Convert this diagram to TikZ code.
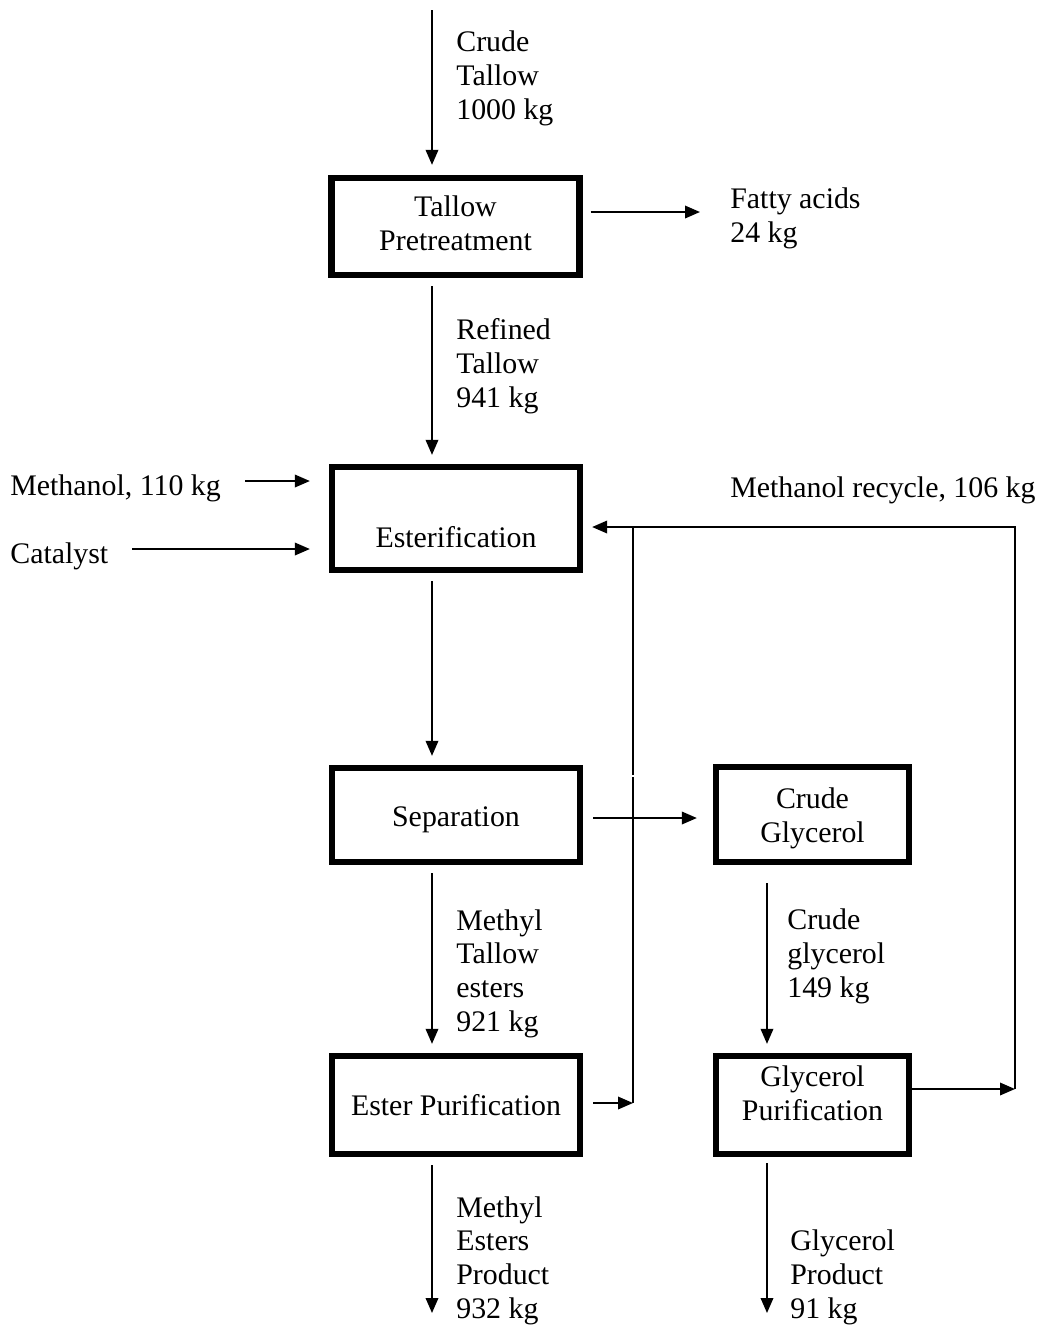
\documentclass[tikz,border=0pt]{standalone}
\usepackage{fontspec}
\setmainfont{Liberation Serif}
\usetikzlibrary{arrows.meta}

\tikzset{
  unit/.style={draw,line width=3.6pt,inner sep=0pt,minimum width=4.96cm},
  unittxt/.style={inner sep=0pt,anchor=base,align=center},
  lbl/.style={inner sep=0pt,anchor=base west,align=left},
  flow/.style={line width=1.1pt,-{Triangle[length=0.3cm,width=0.25cm]}},
  pipe/.style={line width=1.1pt},
  gap/.style={shorten <=0.16cm,shorten >=0.18cm},
}

\begin{document}
\begin{tikzpicture}[x=0.02cm,y=-0.02cm,font=\fontsize{17}{19.1}\selectfont]
\useasboundingbox (0,0) rectangle (1042,1330);

% process units
\node[unit,minimum height=1.94cm] (pre) at (455.5,226.5) {};
\node[unit,minimum height=2.06cm] (ester) at (456,518.5) {};
\node[unit,minimum height=1.88cm] (sep) at (456,815) {};
\node[unit,minimum height=1.9cm,minimum width=3.86cm] (cgly) at (812.5,814.5) {};
\node[unit,minimum height=1.96cm] (estp) at (456,1105) {};
\node[unit,minimum height=1.96cm,minimum width=3.86cm] (glyp) at (812.5,1105) {};

% text of the units (base = last line)
\node[unittxt] (pretxt) at (455.5,250) {Tallow\\Pretreatment};
\node[unittxt] (estertxt) at (456,547) {Esterification};
\node[unittxt] (septxt) at (456,826) {Separation};
\node[unittxt] (cglytxt) at (812.5,842) {Crude\\Glycerol};
\node[unittxt] (estptxt) at (456,1115) {Ester Purification};
\node[unittxt] (glyptxt) at (812.5,1120) {Glycerol\\Purification};

% stream labels
\node[lbl] (crude) at (456,119) {Crude\\Tallow\\1000 kg};
\node[lbl] (fatty) at (730,242) {Fatty acids\\24 kg};
\node[lbl] (refined) at (456,407) {Refined\\Tallow\\941 kg};
\node[lbl] (methin) at (10,495) {Methanol, 110 kg};
\node[lbl] (cat) at (10,563) {Catalyst};
\node[lbl] (recyc) at (730,497) {Methanol recycle, 106 kg};
\node[lbl] (mte) at (456,1031) {Methyl\\Tallow\\esters\\921 kg};
\node[lbl] (cglyin) at (787,997) {Crude\\glycerol\\149 kg};
\node[lbl] (mep) at (456,1318) {Methyl\\Esters\\Product\\932 kg};
\node[lbl] (gp) at (790,1318) {Glycerol\\Product\\91 kg};

% free ends
\coordinate (feed) at (432,10);
\coordinate (fa) at (700,212);
\coordinate (meth) at (245,481);
\coordinate (catin) at (132,549);
\coordinate (meout) at (432,1313);
\coordinate (gout) at (767,1313);
\coordinate (ejoin) at (633,1103);
\coordinate (gjoin) at (1015,1089);
\coordinate (rtop) at (1015,527);

% main line
\draw[flow,shorten >=0.2cm] (feed) -- (feed |- pre.north);
\draw[flow,gap] (pre.south -| feed) -- (ester.north -| feed);
\draw[flow,gap] (ester.south -| feed) -- (sep.north -| feed);
\draw[flow,gap] (sep.south -| feed) -- (estp.north -| feed);
\draw[flow,shorten <=0.16cm] (estp.south -| feed) -- (meout);
\draw[flow,shorten <=0.16cm] (pre.east |- fa) -- (fa);
\draw[flow,shorten >=0.38cm] (meth) -- (meth -| ester.west);
\draw[flow,shorten >=0.38cm] (catin) -- (catin -| ester.west);

% glycerol side
\draw[flow,shorten <=0.2cm,shorten >=0.32cm] (sep.east |- 0,818) -- (cgly.west |- 0,818);
\draw[flow,shorten <=0.36cm,shorten >=0.18cm] (cgly.south -| gout) -- (glyp.north -| gout);
\draw[flow,shorten <=0.12cm] (glyp.south -| gout) -- (gout);

% methanol recycle
\draw[flow,shorten <=0.2cm] (estp.east |- ejoin) -- (ejoin);
\draw[flow] (glyp.east |- gjoin) -- (gjoin);
\draw[pipe] (ejoin) -- (633,777);
\draw[pipe] (633,775) -- (ejoin |- rtop);
\draw[flow,shorten >=0.18cm] (gjoin) -- (rtop) -- (rtop -| ester.east);
\end{tikzpicture}
\end{document}
